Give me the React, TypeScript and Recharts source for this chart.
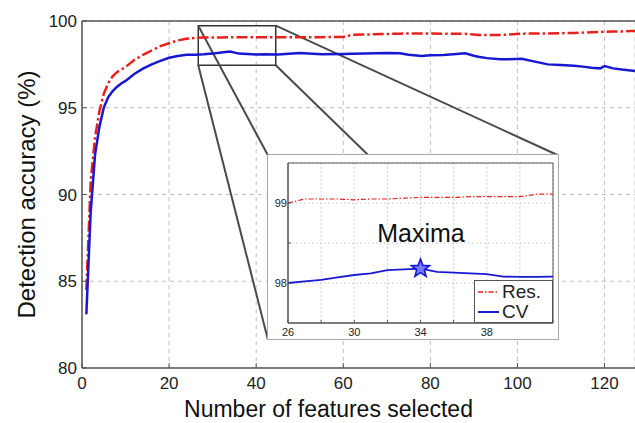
import React from 'react';
import {
  LineChart, ComposedChart, Line, XAxis, YAxis, CartesianGrid,
  ReferenceArea, ReferenceLine, ReferenceDot, Legend,
} from 'recharts';

// ---------- data ----------
const features = [1, 2, 3, 4, 5, 6, 7, 8, 9, 10, 12, 14, 16, 18, 20, 22, 24, 26, 28, 30, 32, 34, 36, 38, 40, 42, 45, 50, 55, 60, 62, 65, 70, 73, 75, 78, 80, 83, 86, 88, 90, 91, 93, 96, 98, 101, 104, 107, 110, 113, 115, 117, 119, 120, 122, 124, 126, 127];
const resMain = [84.5, 90.8, 93.3, 94.8, 95.8, 96.4, 96.8, 97.05, 97.2, 97.35, 97.75, 98.05, 98.3, 98.55, 98.72, 98.88, 98.98, 99.02, 99.05, 99.05, 99.05, 99.06, 99.06, 99.06, 99.06, 99.07, 99.07, 99.07, 99.07, 99.08, 99.2, 99.22, 99.25, 99.27, 99.28, 99.28, 99.28, 99.27, 99.27, 99.26, 99.22, 99.2, 99.19, 99.19, 99.22, 99.27, 99.28, 99.28, 99.3, 99.31, 99.33, 99.35, 99.37, 99.38, 99.39, 99.4, 99.42, 99.43];
const cvMain = [83.1, 89.0, 92.3, 93.9, 95.0, 95.6, 95.95, 96.2, 96.4, 96.55, 96.95, 97.25, 97.5, 97.7, 97.88, 97.98, 98.05, 98.06, 98.08, 98.12, 98.18, 98.24, 98.12, 98.1, 98.07, 98.08, 98.07, 98.15, 98.08, 98.1, 98.11, 98.12, 98.15, 98.14, 98.05, 97.98, 98.02, 98.04, 98.1, 98.14, 98.0, 97.94, 97.86, 97.79, 97.8, 97.82, 97.66, 97.5, 97.46, 97.42, 97.37, 97.3, 97.27, 97.4, 97.27, 97.2, 97.15, 97.12];

const insetFeatures = [26, 27, 28, 29, 30, 31, 32, 33, 34, 35, 36, 37, 38, 39, 40, 41, 42];
const insetRes = [99.0, 99.05, 99.05, 99.05, 99.04, 99.05, 99.05, 99.06, 99.07, 99.07, 99.07, 99.08, 99.08, 99.08, 99.08, 99.11, 99.11];
const insetCV = [98.0, 98.02, 98.04, 98.07, 98.1, 98.12, 98.16, 98.17, 98.18, 98.14, 98.13, 98.12, 98.11, 98.08, 98.076, 98.076, 98.08];

const xTicks = [0, 20, 40, 60, 80, 100, 120];
const yTicks = [80, 85, 90, 95, 100];
const insetXTicks = [26, 28, 30, 32, 34, 36, 38, 40, 42];
const insetXLabels = [26, 30, 34, 38];
const insetYTicks = [98, 98.5, 99];
const insetYLabels = [98, 99];

const zoomBox = { x1: 26.7, x2: 44.5, y1: 97.45, y2: 99.73 };

const seriesNames = { res: 'Res.', cv: 'CV' };

// ---------- layout ----------
const W = 635, H = 423;
const P_LEFT = 82, P_TOP = 21, P_RIGHT = 635, P_BOTTOM = 368;
const X_MAX = (P_RIGHT - P_LEFT) / 4.36;
const Y_MIN = 80, Y_MAX = 100;
const INSET = { left: 268, top: 155, width: 290, height: 184 };

const px2x = (px: number) => ((px - P_LEFT) / (P_RIGHT - P_LEFT)) * X_MAX;
const py2y = (py: number) => Y_MAX - ((py - P_TOP) / (P_BOTTOM - P_TOP)) * (Y_MAX - Y_MIN);

const RED = '#e8201c';
const BLUE = '#1818d0';
const FONT = '"Liberation Sans", Arial, sans-serif';

const mainData = features.map((f, i) => ({ f, res: resMain[i], cv: cvMain[i] }));
const insetData = insetFeatures.map((f, i) => ({ f, res: insetRes[i], cv: insetCV[i] }));
const maxIdx = insetCV.indexOf(Math.max(...insetCV));

const insetL = px2x(INSET.left), insetR = px2x(INSET.left + INSET.width);
const insetT = py2y(INSET.top), insetB = py2y(INSET.top + INSET.height);
const connectors = [
  [{ x: zoomBox.x1, y: zoomBox.y2 }, { x: insetL, y: insetT }],
  [{ x: zoomBox.x1, y: zoomBox.y1 }, { x: insetL, y: insetB }],
  [{ x: zoomBox.x2, y: zoomBox.y2 }, { x: insetR, y: insetT }],
  [{ x: zoomBox.x2, y: zoomBox.y1 }, { x: insetR, y: insetB }],
];

const Star = (props: any) => {
  const { cx, cy } = props;
  const pts: string[] = [];
  for (let k = 0; k < 10; k++) {
    const r = k % 2 === 0 ? 9.5 : 4;
    const a = -Math.PI / 2 + (k * Math.PI) / 5;
    pts.push(`${cx + r * Math.cos(a)},${cy + r * Math.sin(a)}`);
  }
  return <polygon points={pts.join(' ')} fill="#7a7aff" stroke={BLUE} strokeWidth={1.6} />;
};

const InsetLegend = () => (
  <div style={{ width: 79, height: 43, boxSizing: 'border-box', border: '1px solid #555', background: '#fff', fontFamily: FONT, color: '#222' }}>
    {[
      { name: seriesNames.res, color: RED, dash: '5 2 1.5 2', w: 1.5 },
      { name: seriesNames.cv, color: BLUE, dash: undefined, w: 2 },
    ].map((it) => (
      <div key={it.name} style={{ display: 'flex', alignItems: 'center', height: 19, marginTop: 1 }}>
        <svg width={27} height={19} style={{ display: 'block' }}>
          <line x1={3} x2={24} y1={10} y2={10} stroke={it.color} strokeWidth={it.w} strokeDasharray={it.dash} />
        </svg>
        <span style={{ fontSize: 19, lineHeight: '19px' }}>{it.name}</span>
      </div>
    ))}
  </div>
);

export default function App() {
  return (
    <div style={{ position: 'absolute', left: 0, top: 0, width: W, height: H, background: '#fff', overflow: 'hidden' }}>
      <LineChart width={W} height={H} data={mainData} margin={{ top: P_TOP, right: 0, left: 0, bottom: 0 }}>
        <CartesianGrid stroke="#bdbdbd" strokeDasharray="4 4" verticalPoints={undefined} />
        <XAxis
          dataKey="f" type="number" domain={[0, X_MAX]} ticks={xTicks} height={H - P_BOTTOM}
          axisLine={{ stroke: '#555', strokeWidth: 1.5 }} tickLine={{ stroke: '#555' }} tickSize={-5} tickMargin={14}
          tick={{ fontSize: 17, fill: '#222', fontFamily: FONT }} interval={0}
          label={() => (
            <text x={328.5} y={417} textAnchor="middle" fontSize={23} fill="#111" fontFamily={FONT}>
              Number of features selected
            </text>
          )}
        />
        <YAxis
          type="number" domain={[Y_MIN, Y_MAX]} ticks={yTicks} width={P_LEFT}
          axisLine={{ stroke: '#555', strokeWidth: 1.5 }} tickLine={{ stroke: '#555' }} tickSize={-5} tickMargin={10}
          tick={{ fontSize: 17, fill: '#222', fontFamily: FONT }} interval={0}
          label={() => (
            <text x={35} y={194.5} transform="rotate(-90 35 194.5)" textAnchor="middle" fontSize={24} fill="#111" fontFamily={FONT}>
              Detection accuracy (%)
            </text>
          )}
        />
        <ReferenceLine y={Y_MAX} stroke="#555" strokeWidth={1.5} />
        {connectors.map((seg, i) => (
          <ReferenceLine key={i} segment={seg} stroke="#4a4a4a" strokeWidth={2} ifOverflow="visible" />
        ))}
        <Line dataKey="res" stroke={RED} strokeWidth={2.5} strokeDasharray="11 3 2.5 3" dot={false} isAnimationActive={false} />
        <Line dataKey="cv" stroke={BLUE} strokeWidth={2.5} dot={false} isAnimationActive={false} />
        <ReferenceArea x1={zoomBox.x1} x2={zoomBox.x2} y1={zoomBox.y1} y2={zoomBox.y2} fill="none" fillOpacity={0} stroke="#333" strokeWidth={1.5} ifOverflow="visible" />
      </LineChart>

      <div style={{ position: 'absolute', left: INSET.left - 1, top: INSET.top - 1, width: INSET.width + 2, height: INSET.height + 2, boxSizing: 'border-box', border: '1.5px solid #a8a8a8', background: '#fff' }} />
      <div style={{ position: 'absolute', left: INSET.left, top: INSET.top, width: INSET.width, height: INSET.height }}>
        <ComposedChart width={INSET.width} height={INSET.height} data={insetData} margin={{ top: 8, right: 5, left: 0, bottom: 0 }}>
          <CartesianGrid stroke="#c4c4c4" strokeDasharray="1.5 2.5" />
          <XAxis
            dataKey="f" type="number" domain={[26, 42]} ticks={insetXTicks} height={16} interval={0}
            tickFormatter={(v: number) => (insetXLabels.includes(v) ? String(v) : '')}
            axisLine={{ stroke: '#555' }} tickLine={{ stroke: '#555' }} tickSize={-3} tickMargin={8}
            tick={{ fontSize: 11, fill: '#222', fontFamily: FONT }}
          />
          <YAxis
            type="number" domain={[97.5, 99.5]} ticks={insetYTicks} width={20} interval={0}
            tickFormatter={(v: number) => (insetYLabels.includes(v) ? String(v) : '')}
            axisLine={{ stroke: '#555' }} tickLine={{ stroke: '#555' }} tickSize={-3} tickMargin={4}
            tick={{ fontSize: 11, fill: '#222', fontFamily: FONT }}
          />
          <ReferenceArea x1={26} x2={42} y1={97.5} y2={99.5} fill="none" fillOpacity={0} stroke="#555" strokeWidth={1} ifOverflow="visible" />
          <Line dataKey="res" name={seriesNames.res} stroke={RED} strokeWidth={1.2} strokeDasharray="5 2 1.5 2" dot={false} isAnimationActive={false} />
          <Line dataKey="cv" name={seriesNames.cv} stroke={BLUE} strokeWidth={1.8} dot={false} isAnimationActive={false} />
          <ReferenceDot x={insetFeatures[maxIdx]} y={insetCV[maxIdx]} shape={Star} ifOverflow="visible" />
          <Legend
            layout="horizontal" verticalAlign="middle" align="center"
            wrapperStyle={{ position: 'absolute', left: 206, top: 125, width: 79, height: 43 }}
            content={() => <InsetLegend />}
          />
        </ComposedChart>
        <svg width={INSET.width} height={INSET.height} style={{ position: 'absolute', left: 0, top: 0, pointerEvents: 'none' }}>
          <text x={153} y={87} textAnchor="middle" fontSize={25} fill="#111" fontFamily={FONT}>Maxima</text>
        </svg>
      </div>
    </div>
  );
}
